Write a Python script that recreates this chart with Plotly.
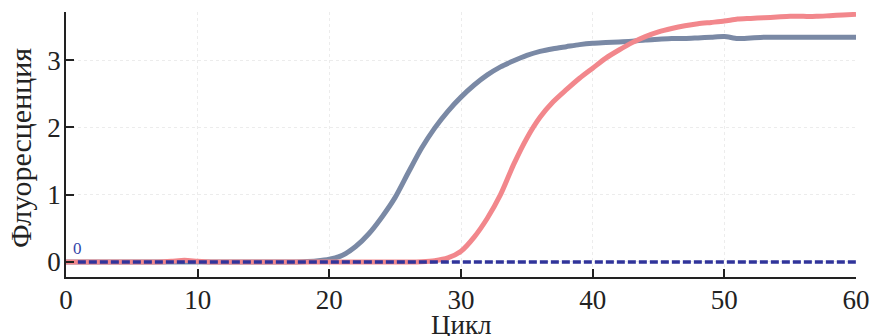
import plotly.graph_objects as go

cycles = list(range(0, 61))

gray_values = [
    0.00, 0.00, 0.00, 0.00, 0.00, 0.00, 0.00, 0.00, 0.00, 0.00,   # 0-9
    0.00, 0.00, 0.00, 0.00, 0.00, 0.00, 0.00, 0.00, 0.005, 0.015, # 10-19
    0.04, 0.10, 0.23, 0.42, 0.67, 0.96, 1.33, 1.69, 1.99, 2.24,   # 20-29
    2.45, 2.63, 2.78, 2.90, 2.99, 3.07, 3.13, 3.17, 3.20, 3.23,   # 30-39
    3.25, 3.26, 3.27, 3.28, 3.30, 3.31, 3.32, 3.32, 3.33, 3.34,   # 40-49
    3.35, 3.32, 3.33, 3.34, 3.34, 3.34, 3.34, 3.34, 3.34, 3.34,   # 50-59
    3.34,                                                         # 60
]

pink_values = [
    0.00, 0.00, 0.00, 0.00, 0.00, 0.00, 0.00, 0.00, 0.01, 0.025,  # 0-9
    0.01, 0.00, 0.00, 0.00, 0.00, 0.00, 0.00, 0.00, 0.00, 0.00,   # 10-19
    0.00, 0.00, 0.00, 0.00, 0.00, 0.00, 0.00, 0.005, 0.02, 0.06,  # 20-29
    0.16, 0.37, 0.65, 1.00, 1.45, 1.84, 2.15, 2.38, 2.56, 2.73,   # 30-39
    2.88, 3.03, 3.15, 3.26, 3.35, 3.42, 3.47, 3.51, 3.54, 3.56,   # 40-49
    3.58, 3.61, 3.62, 3.63, 3.64, 3.65, 3.65, 3.65, 3.66, 3.67,   # 50-59
    3.68,                                                         # 60
]

threshold_x = [0.9, 60]
threshold_y = [0.0, 0.0]

x_ticks = [0, 10, 20, 30, 40, 50, 60]
y_ticks = [0, 1, 2, 3]

FONT = "Liberation Serif"

W, H = 870, 336
L, R, T, B = 66, 14, 12, 59

def px_to_paper_x(px):
    return (px - L) / (W - L - R)

def px_to_paper_y(py):
    return (H - B - py) / (H - T - B)

fig = go.Figure()
fig.add_trace(go.Scatter(x=cycles, y=gray_values, mode="lines",
                         line=dict(color="rgb(122,137,165)", width=5, shape="spline", smoothing=0.7),
                         showlegend=False, hoverinfo="skip"))
fig.add_trace(go.Scatter(x=cycles, y=pink_values, mode="lines",
                         line=dict(color="rgb(242,135,140)", width=5, shape="spline", smoothing=0.7),
                         showlegend=False, hoverinfo="skip"))
fig.add_trace(go.Scatter(x=threshold_x, y=threshold_y, mode="lines",
                         line=dict(color="rgb(48,52,155)", width=3.5, dash="8px,3px"),
                         showlegend=False, hoverinfo="skip"))

fig.add_annotation(x=0.35, y=0.03, xref="x", yref="y", text="0", showarrow=False,
                   xanchor="left", yanchor="bottom",
                   font=dict(family=FONT, size=17, color="rgb(52,70,170)"))

fig.add_annotation(x=px_to_paper_x(20), y=px_to_paper_y(148), xref="paper", yref="paper",
                   text="Флуоресценция", showarrow=False, textangle=-90,
                   xanchor="center", yanchor="middle",
                   font=dict(family=FONT, size=30, color="#222"))
fig.add_annotation(x=px_to_paper_x(461), y=px_to_paper_y(325), xref="paper", yref="paper",
                   text="Цикл", showarrow=False, xanchor="center", yanchor="middle",
                   font=dict(family=FONT, size=27, color="#222"))

fig.update_layout(
    width=W, height=H,
    margin=dict(l=L, r=R, t=T, b=B, autoexpand=False),
    paper_bgcolor="white", plot_bgcolor="white",
    font=dict(family=FONT, size=26, color="#222"),
)
fig.update_xaxes(
    range=[0, 60], tickvals=x_ticks, ticktext=[str(v) for v in x_ticks],
    showline=True, linecolor="#222", linewidth=1.5, mirror=False,
    ticks="inside", ticklen=8, tickwidth=1.5, tickcolor="#222",
    showgrid=True, gridcolor="rgb(236,236,236)", griddash="dot", gridwidth=1,
    zeroline=False, automargin=False, ticklabelstandoff=-2,
    tickfont=dict(family=FONT, size=27),
)
fig.update_yaxes(
    range=[-0.223, 3.715], tickvals=y_ticks, ticktext=[str(v) for v in y_ticks],
    showline=True, linecolor="#222", linewidth=1.5, mirror=False,
    ticks="inside", ticklen=8, tickwidth=1.5, tickcolor="#222",
    showgrid=True, gridcolor="rgb(236,236,236)", griddash="dot", gridwidth=1,
    zeroline=False, automargin=False, ticklabelstandoff=-2,
    tickfont=dict(family=FONT, size=27),
)

fig.write_html("out.html", config={"displayModeBar": False},
               post_script="document.body.style.margin='0';")
